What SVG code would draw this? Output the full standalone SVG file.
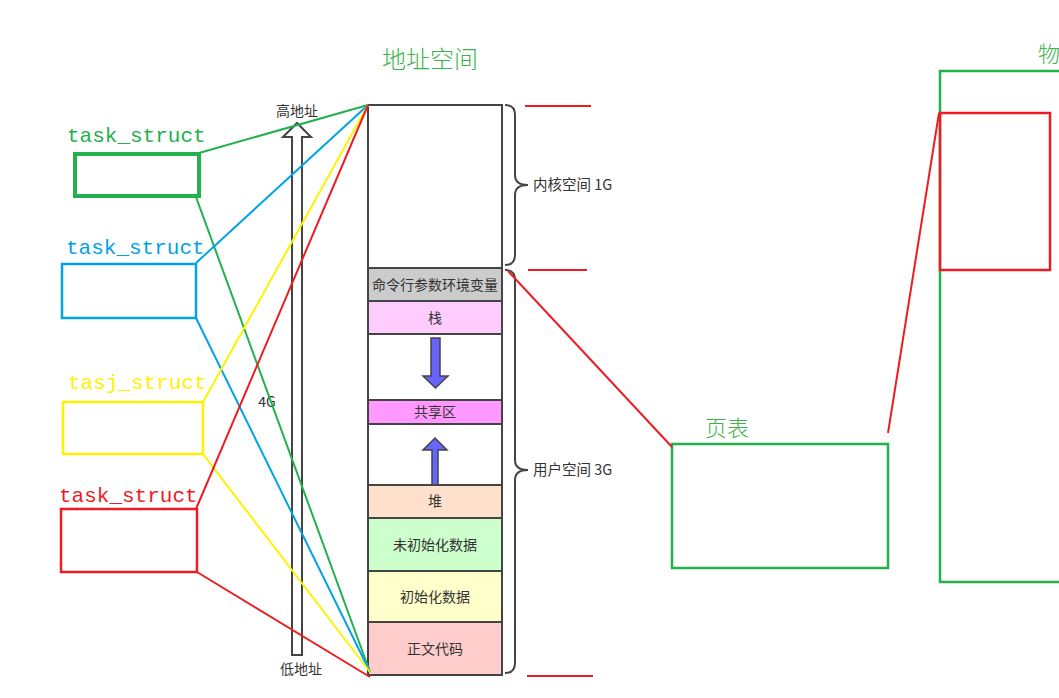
<svg xmlns="http://www.w3.org/2000/svg" width="1059" height="698" viewBox="0 0 1059 698">
<style>
.cjk{font-family:"Noto Sans CJK SC","Noto Sans",sans-serif;font-weight:300;}
.seg{stroke:#444;stroke-width:2;}
.lbl{font-family:"Noto Sans CJK SC",sans-serif;font-size:14px;fill:#333;text-anchor:middle;}
.side{font-family:"Noto Sans CJK SC",sans-serif;font-size:14.5px;fill:#333;}
.ts{font-family:"Liberation Mono","DejaVu Sans Mono",monospace;font-size:21px;}
.g{stroke:#22b14c;}
.b{stroke:#00a2e8;}
.y{stroke:#fff200;}
.r{stroke:#ed1c24;}
.conn line{stroke-width:2;}
</style>
<rect width="1059" height="698" fill="#fff"/>

<text x="430" y="68" class="cjk" font-size="24" fill="#3cb44b" text-anchor="middle">地址空间</text>

<g id="addr-arrow">
<path d="M297,123 L311,137 L302,137 L302,655 L292,655 L292,137 L283,137 Z" fill="#fff" stroke="#444" stroke-width="2"/>
<text x="297" y="116" class="lbl">高地址</text>
<text x="301" y="674" class="lbl">低地址</text>
<text x="267" y="407" class="lbl" font-size="15">4G</text>
</g>

<g id="memory">
<rect x="368" y="105" width="134" height="163" fill="#fff" class="seg"/>
<rect x="368" y="268" width="134" height="33" fill="#cccccc" class="seg"/>
<text x="435" y="290" class="lbl" font-size="14.5">命令行参数环境变量</text>
<rect x="368" y="301" width="134" height="33" fill="#ffccff" class="seg"/>
<text x="435" y="323" class="lbl">栈</text>
<rect x="368" y="334" width="134" height="66" fill="#fff" class="seg"/>
<rect x="368" y="400" width="134" height="24" fill="#ff99ff" class="seg"/>
<text x="435" y="417" class="lbl">共享区</text>
<rect x="368" y="424" width="134" height="61" fill="#fff" class="seg"/>
<rect x="368" y="485" width="134" height="33" fill="#ffe0cc" class="seg"/>
<text x="435" y="506" class="lbl">堆</text>
<rect x="368" y="518" width="134" height="53" fill="#ccffcc" class="seg"/>
<text x="435" y="550" class="lbl">未初始化数据</text>
<rect x="368" y="571" width="134" height="51" fill="#ffffcc" class="seg"/>
<text x="435" y="602" class="lbl">初始化数据</text>
<rect x="368" y="622" width="134" height="53" fill="#ffcccc" class="seg"/>
<text x="435" y="654" class="lbl">正文代码</text>
<path d="M431,338 L440,338 L440,376 L448,376 L435.5,388 L423,376 L431,376 Z" fill="#6666ff" stroke="#444" stroke-width="1.5"/>
<path d="M432,485 L438,485 L438,450 L447,450 L435,438 L423,450 L432,450 Z" fill="#6666ff" stroke="#444" stroke-width="1.5"/>
</g>

<g id="braces" fill="none" stroke="#444" stroke-width="2">
<path d="M505,105 Q515,105 515,115 L515,175 Q515,185 528,185 Q515,185 515,195 L515,255 Q515,265 505,265"/>
<path d="M505,270 Q515,270 515,280 L515,460 Q515,470 528,470 Q515,470 515,480 L515,663 Q515,673 505,673"/>
</g>
<text x="533" y="190" class="side">内核空间 1G</text>
<text x="533" y="475" class="side">用户空间 3G</text>

<g id="marks" stroke="#ed1c24" stroke-width="2">
<line x1="525" y1="106" x2="591" y2="106"/>
<line x1="528" y1="270" x2="587" y2="270"/>
<line x1="527" y1="676" x2="593" y2="676"/>
</g>

<g id="task-green">
<text x="67" y="142" class="ts" fill="#22b14c">task_struct</text>
<rect x="75" y="154" width="124" height="42" fill="none" stroke="#22b14c" stroke-width="4"/>
</g>
<g id="task-blue">
<text x="66" y="254" class="ts" fill="#00a2e8">task_struct</text>
<rect x="62" y="264" width="134" height="54" fill="none" stroke="#00a2e8" stroke-width="2.5"/>
</g>
<g id="task-yellow">
<text x="68" y="389" class="ts" fill="#fff200">tasj_struct</text>
<rect x="63" y="402" width="140" height="52" fill="none" stroke="#fff200" stroke-width="2.5"/>
</g>
<g id="task-red">
<text x="59" y="502" class="ts" fill="#ed1c24">task_struct</text>
<rect x="61" y="509" width="136" height="63" fill="none" stroke="#ed1c24" stroke-width="2.5"/>
</g>

<g id="page-table">
<text x="705" y="436" class="cjk" font-size="22" fill="#3cb44b">页表</text>
<rect x="672" y="444" width="216" height="124" fill="none" stroke="#22b14c" stroke-width="2.5"/>
</g>

<g id="physical">
<text x="1038" y="62" class="cjk" font-size="22" fill="#3cb44b">物</text>
<polyline points="1062,71 940,71 940,582 1062,582" fill="none" stroke="#22b14c" stroke-width="2.5"/>
<rect x="940" y="113" width="110" height="157" fill="none" stroke="#ed1c24" stroke-width="2.5"/>
</g>

<g id="connectors" class="conn">
<line class="g" x1="199" y1="153" x2="368" y2="105"/>
<line class="g" x1="196" y1="197" x2="370" y2="672"/>
<line class="b" x1="196" y1="263" x2="368" y2="105"/>
<line class="b" x1="196" y1="318" x2="370" y2="672"/>
<line class="y" x1="203" y1="402" x2="368" y2="105"/>
<line class="y" x1="203" y1="454" x2="370" y2="672"/>
<line class="r" x1="196" y1="509" x2="368" y2="105"/>
<line class="r" x1="197" y1="572" x2="370" y2="677"/>
<line class="r" x1="508" y1="271" x2="672" y2="447"/>
<line class="r" x1="888" y1="433" x2="939" y2="113"/>
</g>
</svg>
